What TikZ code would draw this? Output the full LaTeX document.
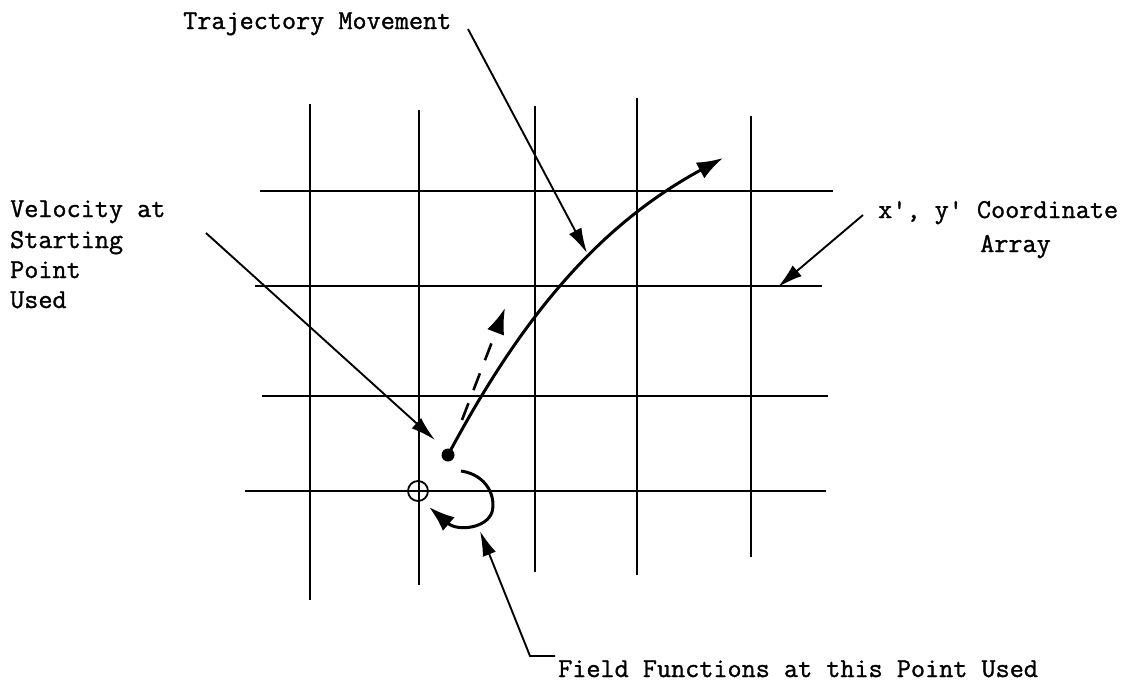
\documentclass[tikz,border=0pt]{standalone}
\usepackage{fontspec}
\newfontfamily\typew{Latin Modern Mono}[FakeBold=1.2]
\usetikzlibrary{arrows.meta}
\begin{document}
\begin{tikzpicture}[x=1pt,y=-1pt,
  gridline/.style={line width=1.8pt},
  leader/.style={line width=1.9pt,-{Latex[length=25pt,width=14pt]}},
  thick path/.style={line width=3pt},
  bighead/.style={-{Latex[length=26pt,width=18pt]}},
  lbl/.style={inner sep=0pt,anchor=base west,font=\typew\fontsize{27.4}{30.3}\selectfont}]
\useasboundingbox (0,0) rectangle (1131,688);
% grid
\draw[gridline] (310,104) -- (310,600);
\draw[gridline] (419,110) -- (419,585);
\draw[gridline] (535,106) -- (535,572);
\draw[gridline] (637,98) -- (637,575);
\draw[gridline] (751,116) -- (751,557);
\draw[gridline] (260,191) -- (833,191);
\draw[gridline] (255,286) -- (822,286);
\draw[gridline] (262,396) -- (828,396);
\draw[gridline] (245,491) -- (826,491);
% grid point marker
\node (gp) [circle,draw,line width=1.8pt,minimum size=20pt,inner sep=0pt] at (418,491) {};
% starting point and trajectory
\coordinate (start) at (448,455);
\coordinate (trajend) at (723,158);
\fill (start) circle (6.5);
\draw[thick path,bighead] (start) .. controls (515,330) and (590,230) .. (trajend);
% dashed velocity arrow
\coordinate (vs) at (462,420);
\coordinate (ve) at (505,308);
\draw[line width=2.6pt,dash pattern=on 18pt off 14pt,bighead] (vs) -- (ve);
% field function arc
\coordinate (as) at (461,471);
\coordinate (ae) at (429,507);
\draw[thick path,bighead] (as) .. controls (488,475) and (496,498) .. (492,512)
  .. controls (487,528) and (458,532) .. (ae);
% labels
\node[lbl] (traj) at (183,29) {Trajectory Movement};
\node[lbl] (v1) at (10,217) {Velocity at};
\node[lbl] (v2) at (10,248) {Starting};
\node[lbl] (v3) at (10,278) {Point};
\node[lbl] (v4) at (10,308) {Used};
\node[lbl] (xy1) at (878,218) {x', y' Coordinate};
\node[lbl] (xy2) at (980,252) {Array};
\node[lbl] (ff) at (558,677) {Field Functions at this Point Used};
% leaders
\coordinate (tl0) at (468,29);
\coordinate (tl1) at (587,253);
\draw[leader] (tl0) -- (tl1);
\coordinate (vl0) at (206,233);
\coordinate (vl1) at (435,440);
\draw[leader] (vl0) -- (vl1);
\coordinate (xl0) at (863,215);
\coordinate (xl1) at (778,287);
\draw[leader] (xl0) -- (xl1);
\coordinate (fl0) at (555,656);
\coordinate (fl1) at (530,656);
\coordinate (fl2) at (480,531);
\draw[leader] (fl0) -- (fl1) -- (fl2);
\end{tikzpicture}
\end{document}
